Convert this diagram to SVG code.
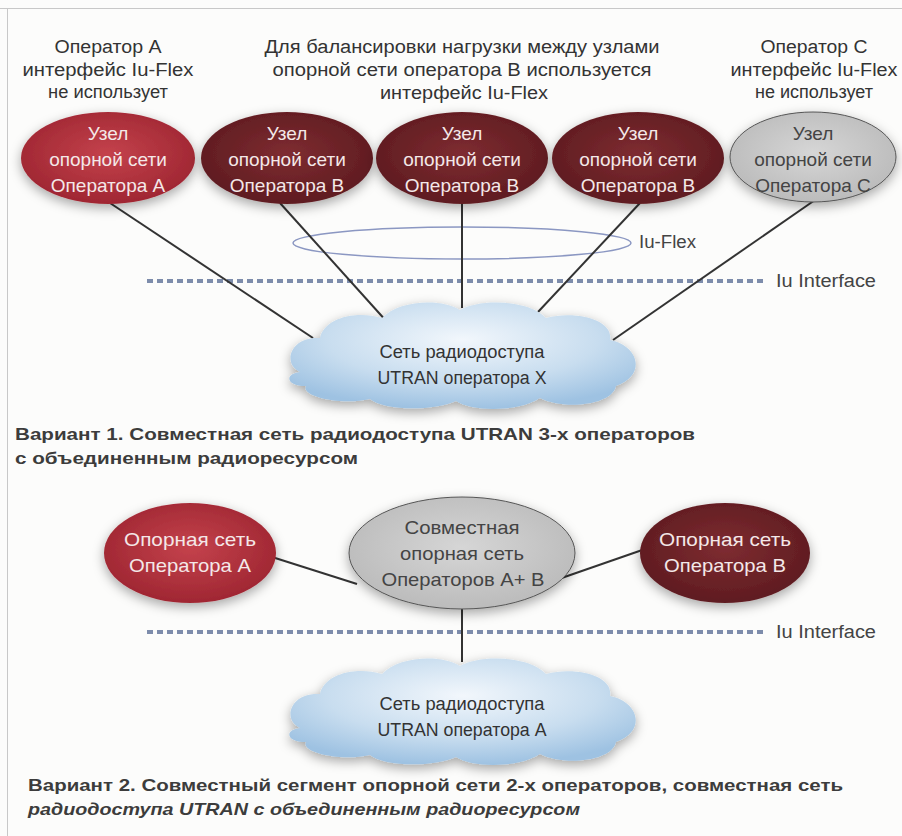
<svg xmlns="http://www.w3.org/2000/svg" width="902" height="836" viewBox="0 0 902 836">
<defs>
<radialGradient id="gRed" cx="50%" cy="45%" r="60%"><stop offset="0" stop-color="#c4424c"/><stop offset="1" stop-color="#9c2430"/></radialGradient>
<radialGradient id="gMar" cx="50%" cy="45%" r="60%"><stop offset="0" stop-color="#7e2c31"/><stop offset="1" stop-color="#5c1a1f"/></radialGradient>
<radialGradient id="gGray" cx="50%" cy="45%" r="60%"><stop offset="0" stop-color="#d6d6d6"/><stop offset="1" stop-color="#b9b9b9"/></radialGradient>
<radialGradient id="gCloud" cx="50%" cy="35%" r="65%"><stop offset="0" stop-color="#f2f7fc"/><stop offset="0.6" stop-color="#c8ddef"/><stop offset="1" stop-color="#9ec2e2"/></radialGradient>
<filter id="sh" x="-20%" y="-30%" width="140%" height="170%"><feDropShadow dx="0" dy="4" stdDeviation="6" flood-color="#000" flood-opacity="0.35"/></filter>
<path id="cloud" d="M300,372 C282,364 290,336 320,338 C324,318 356,310 382,318 C398,300 442,298 460,310 C480,298 530,300 546,318 C576,310 614,320 610,340 C640,346 646,376 616,386 C612,406 562,410 540,398 C520,412 472,412 456,401 C432,412 382,410 370,399 C340,406 300,396 306,386 C286,386 284,374 300,372 Z"/>
</defs>
<style>
.top{font-family:"Liberation Sans",Arial,sans-serif;font-size:18px;fill:#333;text-anchor:middle}
.nd{font-family:"Liberation Sans",Arial,sans-serif;font-size:19px;fill:#f4e8e8;text-anchor:middle}
.ndg{font-family:"Liberation Sans",Arial,sans-serif;font-size:19px;fill:#444;text-anchor:middle}
.cl{font-family:"Liberation Sans",Arial,sans-serif;font-size:18px;fill:#333;text-anchor:middle}
.lab{font-family:"Liberation Sans",Arial,sans-serif;font-size:18px;fill:#444}
.cap{font-family:"Liberation Sans",Arial,sans-serif;font-size:17px;font-weight:bold;fill:#3c3c3c}
.con{stroke:#333;stroke-width:2;fill:none}
.dot{stroke:#7d8cab;stroke-width:4;stroke-dasharray:6 4;fill:none}
.red{fill:url(#gRed);filter:url(#sh)}
.mar{fill:url(#gMar);filter:url(#sh)}
.gry{fill:url(#gGray);stroke:#555;stroke-width:1;filter:url(#sh)}
.cld{fill:url(#gCloud);filter:url(#sh)}
</style>
<rect width="902" height="836" fill="#fcfcfb"/>
<line x1="7.5" y1="8" x2="7.5" y2="836" stroke="#c8c8c8" stroke-width="1"/>
<line x1="0" y1="8.5" x2="902" y2="8.5" stroke="#c8c8c8" stroke-width="1"/>

<g id="top-labels">
<text class="top" x="108" y="53" textLength="107" lengthAdjust="spacingAndGlyphs">Оператор A</text>
<text class="top" x="108" y="76" textLength="171" lengthAdjust="spacingAndGlyphs">интерфейс Iu-Flex</text>
<text class="top" x="108" y="98" textLength="120" lengthAdjust="spacingAndGlyphs">не использует</text>
<text class="top" x="462" y="53" textLength="395" lengthAdjust="spacingAndGlyphs">Для балансировки нагрузки между узлами</text>
<text class="top" x="462" y="76" textLength="379" lengthAdjust="spacingAndGlyphs">опорной сети оператора B используется</text>
<text class="top" x="464" y="99" textLength="168" lengthAdjust="spacingAndGlyphs">интерфейс Iu-Flex</text>
<text class="top" x="814" y="53" textLength="107" lengthAdjust="spacingAndGlyphs">Оператор C</text>
<text class="top" x="814" y="76" textLength="167" lengthAdjust="spacingAndGlyphs">интерфейс Iu-Flex</text>
<text class="top" x="814" y="98" textLength="118" lengthAdjust="spacingAndGlyphs">не использует</text>
</g>

<g id="connectors">
<line class="dot" x1="147" y1="281" x2="765" y2="281"/>
<line class="dot" x1="147" y1="632" x2="765" y2="632"/>
<ellipse cx="462" cy="243" rx="169" ry="16" fill="none" stroke="#8b97c2" stroke-width="1.5"/>
<line class="con" x1="110" y1="203" x2="313" y2="338"/>
<line class="con" x1="280" y1="203" x2="388" y2="323"/>
<line class="con" x1="462" y1="203" x2="462" y2="308"/>
<line class="con" x1="640" y1="203" x2="538" y2="312"/>
<line class="con" x1="815" y1="200" x2="613" y2="340"/>
<line class="con" x1="272" y1="557" x2="357" y2="584"/>
<line class="con" x1="553" y1="581" x2="648" y2="548"/>
<line class="con" x1="462" y1="608" x2="462" y2="662"/>
</g>

<g id="n-a1"><ellipse class="red" cx="108" cy="158" rx="87" ry="46"/>
<text class="nd" x="108" y="140">Узел</text><text class="nd" x="108" y="166">опорной сети</text><text class="nd" x="108" y="192">Оператора A</text></g>
<g id="n-b1"><ellipse class="mar" cx="287" cy="158" rx="86" ry="46"/>
<text class="nd" x="287" y="140">Узел</text><text class="nd" x="287" y="166">опорной сети</text><text class="nd" x="287" y="192">Оператора B</text></g>
<g id="n-b2"><ellipse class="mar" cx="462" cy="158" rx="86" ry="46"/>
<text class="nd" x="462" y="140">Узел</text><text class="nd" x="462" y="166">опорной сети</text><text class="nd" x="462" y="192">Оператора B</text></g>
<g id="n-b3"><ellipse class="mar" cx="638" cy="158" rx="86" ry="46"/>
<text class="nd" x="638" y="140">Узел</text><text class="nd" x="638" y="166">опорной сети</text><text class="nd" x="638" y="192">Оператора B</text></g>
<g id="n-c"><ellipse class="gry" cx="813" cy="157" rx="83" ry="45"/>
<text class="ndg" x="813" y="140">Узел</text><text class="ndg" x="813" y="166">опорной сети</text><text class="ndg" x="813" y="192">Оператора C</text></g>

<g id="lbl-iuflex"><text class="lab" x="639" y="248" textLength="57" lengthAdjust="spacingAndGlyphs">Iu-Flex</text></g>
<g id="lbl-iu1"><text class="lab" x="776" y="287" textLength="100" lengthAdjust="spacingAndGlyphs">Iu Interface</text></g>

<g id="cloud1"><use href="#cloud" class="cld"/>
<text class="cl" x="462" y="358" textLength="165" lengthAdjust="spacingAndGlyphs">Сеть радиодоступа</text>
<text class="cl" x="462" y="384" textLength="169" lengthAdjust="spacingAndGlyphs">UTRAN оператора X</text></g>

<g id="caption1">
<text class="cap" x="15" y="440" textLength="680" lengthAdjust="spacingAndGlyphs">Вариант 1. Совместная сеть радиодоступа UTRAN 3-х операторов</text>
<text class="cap" x="15" y="464" textLength="343" lengthAdjust="spacingAndGlyphs">с объединенным радиоресурсом</text>
</g>

<g id="n-a2"><ellipse class="red" cx="190" cy="553" rx="86" ry="50"/>
<text class="nd" x="190" y="546" textLength="132" lengthAdjust="spacingAndGlyphs">Опорная сеть</text>
<text class="nd" x="190" y="572" textLength="122" lengthAdjust="spacingAndGlyphs">Оператора A</text></g>
<g id="n-ab"><ellipse class="gry" cx="462" cy="553" rx="113" ry="56"/>
<text class="ndg" x="462" y="534" textLength="115" lengthAdjust="spacingAndGlyphs">Совместная</text>
<text class="ndg" x="462" y="560" textLength="124" lengthAdjust="spacingAndGlyphs">опорная сеть</text>
<text class="ndg" x="463" y="586" textLength="163" lengthAdjust="spacingAndGlyphs">Операторов A+ B</text></g>
<g id="n-b4"><ellipse class="mar" cx="725" cy="553" rx="85" ry="50"/>
<text class="nd" x="725" y="546" textLength="132" lengthAdjust="spacingAndGlyphs">Опорная сеть</text>
<text class="nd" x="725" y="572" textLength="122" lengthAdjust="spacingAndGlyphs">Оператора B</text></g>

<g id="lbl-iu2"><text class="lab" x="776" y="638" textLength="100" lengthAdjust="spacingAndGlyphs">Iu Interface</text></g>

<g id="cloud2"><use href="#cloud" class="cld" transform="translate(0,356)"/>
<text class="cl" x="462" y="710" textLength="165" lengthAdjust="spacingAndGlyphs">Сеть радиодоступа</text>
<text class="cl" x="462" y="736" textLength="169" lengthAdjust="spacingAndGlyphs">UTRAN оператора A</text></g>

<g id="caption2">
<text class="cap" x="28" y="791" textLength="815" lengthAdjust="spacingAndGlyphs">Вариант 2. Совместный сегмент опорной сети 2-х операторов, совместная сеть</text>
<text class="cap" x="28" y="815" font-style="italic" textLength="552" lengthAdjust="spacingAndGlyphs">радиодоступа UTRAN с объединенным радиоресурсом</text>
</g>
</svg>
